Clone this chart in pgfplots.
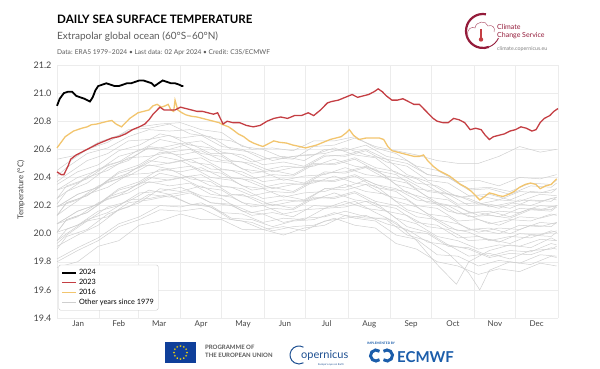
\documentclass[border=0pt]{standalone}
\usepackage{fontspec}
\setmainfont{Lato}
\usepackage{pgfplots}
\pgfplotsset{compat=1.18}
\usetikzlibrary{shapes.geometric,calc}
\definecolor{c23}{HTML}{C43E43}
\definecolor{c16}{HTML}{F2C56E}
\definecolor{cgrey}{HTML}{CFCFCF}
\definecolor{cgrid}{HTML}{ECECEC}
\definecolor{ctxt}{HTML}{444444}
\definecolor{csub}{HTML}{5A5A5A}
\definecolor{maroon}{HTML}{941B3A}
\definecolor{eublue}{HTML}{0F3F9A}
\definecolor{eustar}{HTML}{FFDD00}
\definecolor{copblue}{HTML}{1D4F91}
\definecolor{ecblue}{HTML}{1B5DAA}
\begin{document}
\begin{tikzpicture}[x=1pt,y=1pt]
\useasboundingbox (0,0) rectangle (600,369);
% header
\node[anchor=base west, inner sep=0, font=\fontsize{11.6}{12}\selectfont\bfseries] at (57,345) {DAILY SEA SURFACE TEMPERATURE};
\node[anchor=base west, inner sep=0, text=csub, font=\fontsize{10}{11}\selectfont] at (57,329) {Extrapolar global ocean (60°S–60°N)};
\node[anchor=base west, inner sep=0, text=csub, font=\fontsize{6.6}{7}\selectfont] at (57,314) {Data: ERA5 1979–2024 • Last data: 02 Apr 2024 • Credit: C3S/ECMWF};
% C3S logo
\draw[maroon, line width=2.2pt] (483,338) ++(80:17) arc[start angle=80, end angle=290, radius=17];
\draw[maroon, line width=0.9pt] (483,338) ++(290:17) arc[start angle=290, end angle=335, radius=17];
\draw[maroon!70, line width=0.5pt] (468,333) .. controls (466,340) and (472,343) .. (475,341) .. controls (476,348) and (486,349) .. (488,343) .. controls (492,345) and (496,341) .. (494,337);
\draw[c23, line width=1.6pt] (481,340) -- (481,331);
\fill[c23] (481,329.5) circle (2.2);
\node[anchor=base west, inner sep=0, text=maroon, font=\fontsize{7}{7}\selectfont] at (497,339) {Climate};
\node[anchor=base west, inner sep=0, text=maroon, font=\fontsize{7}{7}\selectfont] at (497,331) {Change Service};
\node[anchor=base west, inner sep=0, text=gray, font=\fontsize{5.3}{6}\selectfont] at (497,318) {climate.copernicus.eu};
% y label
\node[rotate=90, text=ctxt, font=\fontsize{8}{9}\selectfont] at (21,179) {Temperature (°C)};
\begin{axis}[
  at={(57pt,51pt)}, anchor=south west,
  width=501pt, height=253pt, scale only axis,
  xmin=0, xmax=365, ymin=19.4, ymax=21.2,
  axis line style={draw=none},
  xtick={15.5,45,74.5,105,135.5,166,196.5,227.5,258,288.5,319,349.5},
  xticklabels={Jan,Feb,Mar,Apr,May,Jun,Jul,Aug,Sep,Oct,Nov,Dec},
  minor xtick={0,31,59,90,120,151,181,212,243,273,304,334,365},
  ytick={19.4,19.6,19.8,20.0,20.2,20.4,20.6,20.8,21.0,21.2},
  xmajorgrids=false, xminorgrids=true, ymajorgrids=true,
  grid style={cgrid, line width=0.5pt},
  minor grid style={cgrid, line width=0.5pt},
  major tick length=0pt, minor tick length=0pt,
  tick label style={text=ctxt},
  xticklabel style={font=\fontsize{8}{9}\selectfont, yshift=1pt},
  yticklabel style={font=\fontsize{9}{10}\selectfont, xshift=-2pt},
  /pgf/number format/.cd, fixed, fixed zerofill, precision=1, assume math mode=true,
  /pgfplots/.cd,
  legend style={at={(0.003,0.03)}, anchor=south west, draw=gray!45, rounded corners=2pt, fill=white,
    font=\fontsize{7.3}{8}\selectfont, row sep=-1pt, inner sep=2.5pt, cells={anchor=west}},
  legend image code/.code={\draw[#1] (0pt,0pt) -- (14pt,0pt);},
  clip=false,
]
\addlegendimage{black, line width=1.8pt}
\addlegendentry{2024}
\addlegendimage{c23, line width=1.5pt}
\addlegendentry{2023}
\addlegendimage{c16, line width=1.7pt}
\addlegendentry{2016}
\addlegendimage{cgrey, line width=0.8pt}
\addlegendentry{Other years since 1979}
\pgfplotsset{every axis plot/.append style={forget plot}}
% other years
\addplot[cgrey, line width=0.5pt] coordinates {(0,19.80)(15,19.88)(30,19.95)(45,20.05)(60,20.10)(75,20.17)(90,20.16)(105,20.18)(120,20.11)(135,20.09)(150,20.03)(165,20.05)(180,20.02)(195,20.09)(210,20.11)(225,20.13)(240,20.07)(255,20.03)(270,19.94)(285,19.92)(300,19.84)(315,19.86)(330,19.82)(345,19.88)(360,19.89)(364,19.91)};
\addplot[cgrey, line width=0.5pt] coordinates {(0,19.93)(7,19.99)(22,20.09)(37,20.12)(52,20.22)(67,20.24)(82,20.27)(97,20.21)(112,20.20)(127,20.11)(142,20.10)(157,20.05)(172,20.09)(187,20.10)(202,20.15)(217,20.11)(232,20.09)(247,19.99)(262,19.96)(277,19.85)(292,19.84)(307,19.77)(322,19.81)(337,19.79)(352,19.85)(364,19.84)};
\addplot[cgrey, line width=0.5pt] coordinates {(0,19.82)(15,19.90)(30,19.97)(45,20.07)(60,20.12)(75,20.20)(90,20.19)(105,20.22)(120,20.15)(135,20.14)(150,20.08)(165,20.11)(180,20.10)(195,20.18)(210,20.19)(225,20.23)(240,20.16)(255,20.13)(270,20.05)(285,20.03)(300,19.95)(315,19.96)(330,19.93)(345,19.99)(360,19.98)(364,20.01)};
\addplot[cgrey, line width=0.5pt] coordinates {(0,20.01)(15,20.06)(30,20.16)(45,20.20)(60,20.29)(75,20.30)(90,20.33)(105,20.27)(120,20.25)(135,20.16)(150,20.14)(165,20.08)(180,20.11)(195,20.12)(210,20.16)(225,20.12)(240,20.10)(255,19.99)(270,19.95)(285,19.86)(300,19.72)(308,19.60)(315,19.74)(330,19.80)(345,19.78)(360,19.84)(364,19.83)};
\addplot[cgrey, line width=0.5pt] coordinates {(0,19.95)(7,20.03)(22,20.09)(37,20.19)(52,20.23)(67,20.31)(82,20.28)(97,20.30)(112,20.22)(127,20.20)(142,20.13)(157,20.15)(172,20.12)(187,20.20)(202,20.19)(217,20.23)(232,20.15)(247,20.08)(262,19.95)(277,19.78)(291,19.64)(300,19.80)(315,19.88)(330,19.92)(345,19.90)(360,19.97)(364,19.95)};
\addplot[cgrey, line width=0.5pt] coordinates {(0,19.89)(7,19.98)(22,20.03)(37,20.14)(52,20.19)(67,20.28)(82,20.26)(97,20.29)(112,20.22)(127,20.21)(142,20.15)(157,20.18)(172,20.17)(187,20.25)(202,20.26)(217,20.30)(232,20.23)(247,20.20)(262,20.12)(277,20.10)(292,20.02)(307,20.03)(322,20.00)(337,20.06)(352,20.05)(364,20.08)};
\addplot[cgrey, line width=0.5pt] coordinates {(0,20.07)(15,20.12)(30,20.22)(45,20.27)(60,20.36)(75,20.37)(90,20.40)(105,20.33)(120,20.31)(135,20.22)(150,20.20)(165,20.14)(180,20.17)(195,20.18)(210,20.23)(225,20.18)(240,20.16)(255,20.05)(270,20.01)(285,19.92)(300,19.89)(315,19.83)(330,19.86)(345,19.85)(360,19.90)(364,19.89)};
\addplot[cgrey, line width=0.5pt] coordinates {(0,20.01)(7,20.10)(22,20.15)(37,20.25)(52,20.29)(67,20.37)(82,20.34)(97,20.36)(112,20.28)(127,20.26)(142,20.19)(157,20.21)(172,20.18)(187,20.26)(202,20.25)(217,20.29)(232,20.21)(247,20.18)(262,20.08)(277,20.06)(292,19.97)(307,19.98)(322,19.94)(337,20.00)(352,19.99)(364,20.02)};
\addplot[cgrey, line width=0.5pt] coordinates {(0,19.91)(15,19.99)(30,20.06)(45,20.17)(60,20.22)(75,20.32)(90,20.30)(105,20.34)(120,20.27)(135,20.28)(150,20.21)(165,20.24)(180,20.23)(195,20.32)(210,20.33)(225,20.38)(240,20.32)(255,20.30)(270,20.22)(285,20.20)(300,20.12)(315,20.13)(330,20.11)(345,20.17)(360,20.16)(364,20.19)};
\addplot[cgrey, line width=0.5pt] coordinates {(0,20.13)(7,20.18)(22,20.28)(37,20.33)(52,20.42)(67,20.43)(82,20.46)(97,20.39)(112,20.37)(127,20.28)(142,20.26)(157,20.20)(172,20.23)(187,20.24)(202,20.29)(217,20.24)(232,20.22)(247,20.11)(262,20.07)(277,19.98)(292,19.95)(307,19.89)(322,19.92)(337,19.91)(352,19.96)(364,19.95)};
\addplot[cgrey, line width=0.5pt] coordinates {(0,20.07)(15,20.16)(30,20.21)(45,20.31)(60,20.35)(75,20.43)(90,20.40)(105,20.42)(120,20.34)(135,20.32)(150,20.25)(165,20.27)(180,20.24)(195,20.32)(210,20.31)(225,20.35)(240,20.27)(255,20.24)(270,20.14)(285,20.12)(300,20.03)(315,20.04)(330,20.00)(345,20.06)(360,20.05)(364,20.08)};
\addplot[cgrey, line width=0.5pt] coordinates {(0,20.01)(7,20.10)(22,20.15)(37,20.26)(52,20.31)(67,20.40)(82,20.38)(97,20.41)(112,20.34)(127,20.33)(142,20.27)(157,20.30)(172,20.29)(187,20.37)(202,20.38)(217,20.42)(232,20.35)(247,20.32)(262,20.24)(277,20.22)(292,20.14)(307,20.15)(322,20.12)(337,20.18)(352,20.17)(364,20.20)};
\addplot[cgrey, line width=0.5pt] coordinates {(0,20.19)(15,20.24)(30,20.34)(45,20.39)(60,20.48)(75,20.49)(90,20.52)(105,20.45)(120,20.43)(135,20.34)(150,20.32)(165,20.26)(180,20.29)(195,20.30)(210,20.35)(225,20.30)(240,20.28)(255,20.17)(270,20.13)(285,20.04)(300,20.01)(315,19.95)(330,19.98)(345,19.97)(360,20.02)(364,20.01)};
\addplot[cgrey, line width=0.5pt] coordinates {(0,20.13)(7,20.22)(22,20.27)(37,20.37)(52,20.41)(67,20.49)(82,20.46)(97,20.48)(112,20.40)(127,20.38)(142,20.31)(157,20.33)(172,20.30)(187,20.38)(202,20.37)(217,20.41)(232,20.33)(247,20.30)(262,20.20)(277,20.18)(292,20.09)(307,20.10)(322,20.06)(337,20.12)(352,20.11)(364,20.14)};
\addplot[cgrey, line width=0.5pt] coordinates {(0,20.07)(15,20.16)(30,20.21)(45,20.32)(60,20.37)(75,20.46)(90,20.44)(105,20.47)(120,20.40)(135,20.39)(150,20.33)(165,20.36)(180,20.35)(195,20.43)(210,20.44)(225,20.48)(240,20.41)(255,20.38)(270,20.30)(285,20.28)(300,20.20)(315,20.21)(330,20.18)(345,20.24)(360,20.23)(364,20.26)};
\addplot[cgrey, line width=0.5pt] coordinates {(0,20.25)(7,20.30)(22,20.40)(37,20.45)(52,20.54)(67,20.55)(82,20.58)(97,20.51)(112,20.49)(127,20.40)(142,20.38)(157,20.32)(172,20.35)(187,20.36)(202,20.41)(217,20.36)(232,20.34)(247,20.23)(262,20.19)(277,20.10)(292,20.07)(307,20.01)(322,20.04)(337,20.03)(352,20.08)(364,20.07)};
\addplot[cgrey, line width=0.5pt] coordinates {(0,20.19)(15,20.28)(30,20.33)(45,20.43)(60,20.47)(75,20.55)(90,20.52)(105,20.54)(120,20.46)(135,20.44)(150,20.37)(165,20.39)(180,20.36)(195,20.44)(210,20.43)(225,20.47)(240,20.39)(255,20.36)(270,20.26)(285,20.24)(300,20.15)(315,20.16)(330,20.12)(345,20.18)(360,20.17)(364,20.20)};
\addplot[cgrey, line width=0.5pt] coordinates {(0,20.13)(7,20.22)(22,20.27)(37,20.38)(52,20.43)(67,20.52)(82,20.50)(97,20.53)(112,20.46)(127,20.45)(142,20.39)(157,20.42)(172,20.41)(187,20.49)(202,20.50)(217,20.54)(232,20.47)(247,20.44)(262,20.36)(277,20.34)(292,20.26)(307,20.27)(322,20.24)(337,20.30)(352,20.29)(364,20.32)};
\addplot[cgrey, line width=0.5pt] coordinates {(0,20.31)(15,20.36)(30,20.46)(45,20.51)(60,20.60)(75,20.61)(90,20.64)(105,20.57)(120,20.55)(135,20.46)(150,20.44)(165,20.38)(180,20.41)(195,20.42)(210,20.47)(225,20.42)(240,20.40)(255,20.29)(270,20.25)(285,20.16)(300,20.13)(315,20.07)(330,20.10)(345,20.09)(360,20.14)(364,20.13)};
\addplot[cgrey, line width=0.5pt] coordinates {(0,20.25)(7,20.34)(22,20.39)(37,20.49)(52,20.53)(67,20.61)(82,20.58)(97,20.60)(112,20.52)(127,20.50)(142,20.43)(157,20.45)(172,20.42)(187,20.50)(202,20.49)(217,20.53)(232,20.45)(247,20.42)(262,20.32)(277,20.30)(292,20.21)(307,20.22)(322,20.18)(337,20.24)(352,20.23)(364,20.26)};
\addplot[cgrey, line width=0.5pt] coordinates {(0,20.19)(15,20.28)(30,20.33)(45,20.44)(60,20.49)(75,20.58)(90,20.56)(105,20.59)(120,20.52)(135,20.51)(150,20.45)(165,20.48)(180,20.47)(195,20.55)(210,20.56)(225,20.60)(240,20.53)(255,20.50)(270,20.42)(285,20.40)(300,20.32)(315,20.33)(330,20.30)(345,20.36)(360,20.35)(364,20.38)};
\addplot[cgrey, line width=0.5pt] coordinates {(0,20.37)(7,20.42)(22,20.52)(37,20.57)(52,20.66)(67,20.67)(82,20.70)(97,20.63)(112,20.61)(127,20.52)(142,20.50)(157,20.44)(172,20.47)(187,20.48)(202,20.53)(217,20.48)(232,20.46)(247,20.35)(262,20.31)(277,20.22)(292,20.19)(307,20.13)(322,20.16)(337,20.15)(352,20.20)(364,20.19)};
\addplot[cgrey, line width=0.5pt] coordinates {(0,20.31)(15,20.40)(30,20.45)(45,20.55)(60,20.59)(75,20.67)(90,20.64)(105,20.66)(120,20.58)(135,20.56)(150,20.49)(165,20.51)(180,20.48)(195,20.56)(210,20.55)(225,20.59)(240,20.51)(255,20.48)(270,20.38)(285,20.36)(300,20.27)(315,20.28)(330,20.24)(345,20.30)(360,20.29)(364,20.32)};
\addplot[cgrey, line width=0.5pt] coordinates {(0,20.21)(7,20.30)(22,20.36)(37,20.47)(52,20.52)(67,20.62)(82,20.60)(97,20.64)(112,20.57)(127,20.57)(142,20.51)(157,20.54)(172,20.53)(187,20.62)(202,20.63)(217,20.68)(232,20.62)(247,20.59)(262,20.56)(277,20.52)(292,20.50)(307,20.50)(322,20.55)(337,20.62)(352,20.58)(364,20.60)};
\addplot[cgrey, line width=0.5pt] coordinates {(0,20.35)(15,20.44)(30,20.49)(45,20.59)(60,20.63)(75,20.71)(90,20.68)(105,20.70)(120,20.62)(135,20.60)(150,20.53)(165,20.55)(180,20.52)(195,20.60)(210,20.59)(225,20.63)(240,20.55)(255,20.52)(270,20.42)(285,20.40)(300,20.31)(315,20.32)(330,20.28)(345,20.34)(360,20.33)(364,20.36)};
\addplot[cgrey, line width=0.5pt] coordinates {(0,20.45)(7,20.50)(22,20.60)(37,20.65)(52,20.74)(67,20.75)(82,20.78)(97,20.71)(112,20.69)(127,20.60)(142,20.58)(157,20.52)(172,20.55)(187,20.56)(202,20.61)(217,20.56)(232,20.54)(247,20.43)(262,20.39)(277,20.30)(292,20.27)(307,20.21)(322,20.24)(337,20.23)(352,20.28)(364,20.27)};
\addplot[cgrey, line width=0.5pt] coordinates {(0,20.53)(15,20.56)(30,20.65)(45,20.70)(60,20.76)(75,20.78)(90,20.79)(105,20.74)(120,20.72)(135,20.62)(150,20.60)(165,20.54)(180,20.56)(195,20.57)(210,20.61)(225,20.56)(240,20.53)(255,20.42)(270,20.37)(285,20.28)(300,20.25)(315,20.19)(330,20.22)(345,20.20)(360,20.25)(364,20.24)};
\addplot[cgrey, line width=0.5pt] coordinates {(0,20.41)(7,20.47)(22,20.57)(37,20.61)(52,20.69)(67,20.74)(82,20.73)(97,20.74)(112,20.68)(127,20.66)(142,20.60)(157,20.61)(172,20.59)(187,20.66)(202,20.66)(217,20.69)(232,20.61)(247,20.57)(262,20.48)(277,20.45)(292,20.37)(307,20.38)(322,20.34)(337,20.40)(352,20.39)(364,20.42)};
\addplot[cgrey, line width=0.5pt] coordinates {(0,19.76)(15,19.80)(30,19.91)(45,19.95)(60,20.06)(75,20.09)(90,20.14)(105,20.10)(120,20.10)(135,20.03)(150,20.03)(165,19.99)(180,20.04)(195,20.06)(210,20.13)(225,20.11)(240,20.11)(255,20.02)(270,20.00)(285,19.91)(300,19.90)(315,19.84)(330,19.88)(345,19.87)(360,19.93)(364,19.92)};
\addplot[cgrey, line width=0.5pt] coordinates {(0,19.95)(7,20.00)(22,20.10)(37,20.15)(52,20.24)(67,20.25)(82,20.28)(97,20.21)(112,20.19)(127,20.10)(142,20.08)(157,20.02)(172,20.05)(187,20.06)(202,20.11)(217,20.06)(232,20.04)(247,19.93)(262,19.89)(277,19.80)(292,19.77)(307,19.71)(322,19.75)(337,19.73)(352,19.79)(364,19.77)};
% 2016
\addplot[c16, line width=1.3pt] coordinates {(0,20.61)(3,20.65)(6,20.69)(9,20.71)(12,20.73)(15,20.74)(18,20.75)(22,20.76)(25,20.775)(29,20.78)(33,20.79)(37,20.80)(40,20.805)(43,20.78)(47,20.76)(50,20.79)(53,20.82)(56,20.84)(59,20.86)(63,20.87)(67,20.88)(70,20.91)(73,20.92)(76,20.90)(79,20.91)(81,20.92)(83,20.88)(85,20.87)(86,20.95)(88,20.88)(91,20.86)(94,20.845)(98,20.835)(102,20.83)(106,20.82)(110,20.81)(114,20.80)(118,20.79)(121,20.775)(125,20.76)(128,20.74)(132,20.71)(136,20.69)(140,20.66)(143,20.645)(147,20.63)(150,20.62)(154,20.64)(158,20.66)(162,20.65)(167,20.645)(172,20.63)(177,20.62)(181,20.61)(185,20.62)(189,20.63)(194,20.65)(199,20.67)(203,20.68)(207,20.69)(211,20.72)(213,20.74)(216,20.70)(220,20.67)(225,20.68)(230,20.68)(235,20.68)(238,20.67)(241,20.62)(244,20.59)(248,20.58)(252,20.57)(256,20.56)(260,20.55)(264,20.55)(267,20.56)(270,20.52)(274,20.48)(278,20.45)(282,20.43)(286,20.41)(290,20.38)(294,20.35)(298,20.33)(302,20.30)(305,20.27)(308,20.24)(311,20.26)(315,20.29)(319,20.28)(322,20.27)(325,20.265)(329,20.28)(333,20.30)(337,20.33)(341,20.35)(345,20.36)(349,20.35)(352,20.32)(356,20.34)(360,20.35)(364,20.39)};
% 2023
\addplot[c23, line width=1.3pt] coordinates {(0,20.44)(3,20.42)(5,20.42)(8,20.48)(10,20.53)(14,20.56)(18,20.58)(22,20.60)(26,20.62)(30,20.64)(35,20.66)(40,20.68)(45,20.69)(50,20.71)(55,20.74)(60,20.76)(64,20.78)(67,20.81)(70,20.85)(73,20.88)(75,20.90)(78,20.88)(82,20.88)(86,20.88)(90,20.90)(94,20.89)(98,20.88)(102,20.87)(106,20.87)(110,20.86)(114,20.85)(117,20.86)(119,20.82)(121,20.78)(124,20.80)(128,20.79)(133,20.79)(138,20.77)(143,20.76)(148,20.77)(153,20.80)(158,20.82)(163,20.83)(168,20.82)(173,20.84)(178,20.84)(183,20.86)(187,20.84)(192,20.88)(197,20.93)(200,20.94)(205,20.95)(210,20.97)(215,20.99)(219,20.97)(223,20.98)(227,20.99)(231,21.01)(234,21.03)(237,21.01)(240,20.98)(244,20.95)(248,20.95)(252,20.96)(256,20.94)(260,20.92)(264,20.92)(267,20.89)(270,20.86)(274,20.82)(277,20.80)(281,20.79)(285,20.79)(289,20.82)(293,20.81)(297,20.79)(301,20.74)(305,20.75)(309,20.74)(312,20.70)(315,20.67)(318,20.69)(322,20.70)(326,20.71)(330,20.73)(334,20.74)(338,20.76)(342,20.75)(346,20.73)(349,20.74)(352,20.79)(355,20.82)(359,20.84)(362,20.87)(365,20.89)};
% 2024
\addplot[black, line width=1.8pt] coordinates {(0,20.91)(2,20.96)(5,21.00)(8,21.01)(11,21.01)(14,20.98)(17,20.97)(20,20.96)(22,20.95)(24,20.94)(26,20.97)(28,21.02)(30,21.05)(33,21.06)(36,21.07)(39,21.06)(42,21.05)(45,21.05)(48,21.06)(51,21.07)(54,21.07)(57,21.08)(60,21.09)(63,21.09)(66,21.08)(69,21.07)(71,21.05)(74,21.07)(77,21.09)(80,21.08)(83,21.07)(86,21.07)(89,21.06)(91,21.05)(92,21.05)};
\end{axis}
% footer: EU
\fill[eublue] (165,6) rectangle (196,27);
\foreach \a in {0,30,...,330} {\node[star, star points=5, star point ratio=2.4, fill=eustar, inner sep=0, minimum size=2.2pt] at ($(180.5,16.5)+(\a:6.5)$) {};}
\node[anchor=base west, inner sep=0, text=csub, font=\fontsize{6}{6}\selectfont\bfseries] at (205,19) {PROGRAMME OF};
\node[anchor=base west, inner sep=0, text=csub, font=\fontsize{6}{6}\selectfont\bfseries] at (205,11) {THE EUROPEAN UNION};
% Copernicus
\draw[copblue, line width=1pt] (299,14) ++(60:9) arc[start angle=60, end angle=300, radius=9];
\node[anchor=base west, inner sep=0, text=copblue, font=\fontsize{11}{11}\selectfont] at (301,10) {opernicus};
\node[anchor=base west, inner sep=0, text=copblue, font=\fontsize{2.6}{3}\selectfont] at (318,3.5) {Europe's eyes on Earth};
% ECMWF
\node[anchor=base west, inner sep=0, text=ecblue, font=\fontsize{3.2}{4}\selectfont\bfseries] at (367,24) {IMPLEMENTED BY};
\draw[ecblue, line width=3pt] (376,13.5) ++(50:5.5) arc[start angle=50, end angle=310, radius=5.5];
\draw[ecblue, line width=3pt] (387,13.5) ++(230:5.5) arc[start angle=230, end angle=490, radius=5.5];
\node[anchor=base west, inner sep=0, text=ecblue, font=\fontsize{15}{15}\selectfont\bfseries] at (397,6.5) {ECMWF};
\end{tikzpicture}
\end{document}
